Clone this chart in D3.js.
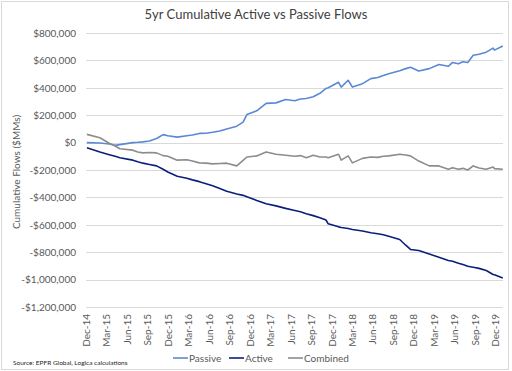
<!DOCTYPE html>
<html>
<head>
<meta charset="utf-8">
<script src="https://cdn.jsdelivr.net/npm/d3@7"></script>
<style>
  body { margin: 0; background: #fff; }
  text { font-family: Lato, "Open Sans", sans-serif; }
</style>
</head>
<body>
<svg></svg>
<script>
// Chart data (values in $MMs)
const dates = [
  "2014-12-05", "2015-02-01", "2015-03-15", "2015-04-10", "2015-05-01", "2015-06-28",
  "2015-07-20", "2015-08-12", "2015-09-10", "2015-10-12", "2015-11-10", "2015-12-01",
  "2016-01-12", "2016-02-24", "2016-03-20", "2016-04-20", "2016-05-20", "2016-06-18",
  "2016-07-20", "2016-08-20", "2016-10-04", "2016-11-01", "2016-11-18", "2017-01-01",
  "2017-02-12", "2017-03-28", "2017-05-10", "2017-06-20", "2017-07-15", "2017-08-10",
  "2017-09-10", "2017-10-10", "2017-11-06", "2017-11-16", "2018-01-01", "2018-01-13",
  "2018-02-13", "2018-03-04", "2018-04-18", "2018-05-25", "2018-06-25", "2018-07-20",
  "2018-08-13", "2018-10-01", "2018-10-28", "2018-11-18", "2018-12-25", "2019-02-10",
  "2019-03-25", "2019-05-06", "2019-05-25", "2019-06-20", "2019-07-10", "2019-08-01",
  "2019-08-25", "2019-09-20", "2019-10-22", "2019-11-22", "2019-11-28", "2020-01-04"
];
const passive = [
  0, -3, -10, -20, -15, 0,
  2, 5, 12, 30, 58, 50,
  40, 50, 55, 67, 68, 75,
  85, 100, 120, 150, 205, 232,
  286, 290, 314, 305, 318, 322,
  335, 360, 395, 400, 440, 405,
  455, 405, 430, 467, 475, 490,
  503, 525, 540, 550, 522, 540,
  570, 557, 585, 575, 590, 585,
  637, 645, 660, 690, 675, 705
].map(v => v * 1000);
const active = [
  -37, -68, -88, -100, -110, -128,
  -140, -150, -160, -170, -195, -215,
  -245, -260, -272, -285, -300, -315,
  -335, -355, -375, -385, -395, -422,
  -446, -462, -480, -495, -505, -519,
  -533, -549, -565, -593, -615, -620,
  -627, -634, -645, -658, -665, -673,
  -683, -707, -749, -780, -788, -813,
  -837, -860, -866, -880, -890, -903,
  -910, -918, -934, -963, -965, -988
].map(v => v * 1000);
const combined = [
  60, 35, -5, -25, -45, -55,
  -68, -75, -72, -75, -95, -100,
  -128, -125, -135, -148, -150, -155,
  -152, -150, -170, -130, -105, -97,
  -68, -85, -92, -100, -95, -110,
  -92, -105, -105, -110, -85, -128,
  -97, -148, -115, -105, -108, -100,
  -97, -85, -90, -97, -135, -170,
  -170, -195, -183, -195, -188, -200,
  -170, -185, -195, -178, -190, -195
].map(v => v * 1000);

const yTicks = [800000, 600000, 400000, 200000, 0, -200000, -400000, -600000, -800000, -1000000, -1200000];
const seriesNames = ["Passive", "Active", "Combined"];
const seriesColors = ["#5b88d6", "#0b1f7a", "#8c8c8c"];

const width = 512, height = 371;
const margin = { top: 33, right: 9, bottom: 64, left: 86 };

const svg = d3.select("svg")
    .attr("width", width)
    .attr("height", height);

// Outer chart border
svg.append("rect")
    .attr("x", 1.5).attr("y", 1.5)
    .attr("width", width - 5).attr("height", height - 3)
    .attr("fill", "none")
    .attr("stroke", "#d9d9d9");

const parse = d3.timeParse("%Y-%m-%d");

const xScale = d3.scaleTime()
    .domain([new Date(2014, 11, 1), new Date(2020, 0, 5)])
    .range([margin.left, width - margin.right]);

const yScale = d3.scaleLinear()
    .domain([-1200000, 800000])
    .range([height - margin.bottom, margin.top]);

// Gridlines
svg.append("g")
    .selectAll("line")
    .data(yTicks)
    .join("line")
    .attr("x1", margin.left)
    .attr("x2", width - margin.right)
    .attr("y1", d => Math.round(yScale(d)) + 0.5)
    .attr("y2", d => Math.round(yScale(d)) + 0.5)
    .attr("stroke", "#d9d9d9");

// Y axis labels
const fmt = d => (d < 0 ? "-$" : "$") + d3.format(",")(Math.abs(d));
const yAxis = svg.append("g")
    .attr("transform", `translate(${margin.left},0)`)
    .call(d3.axisLeft(yScale).tickValues(yTicks).tickFormat(fmt).tickSize(0).tickPadding(10));
yAxis.select(".domain").remove();
yAxis.selectAll("text")
    .style("font-family", "Lato, sans-serif")
    .style("font-size", "10px")
    .attr("fill", "#595959");

// X axis labels (quarterly)
const xTicks = d3.range(0, 21).map(i => new Date(2014, 11 + i * 3, 1));
const xAxis = svg.append("g")
    .attr("transform", `translate(0,${height - margin.bottom})`)
    .call(d3.axisBottom(xScale).tickValues(xTicks).tickFormat(d3.timeFormat("%b-%y")).tickSize(0));
xAxis.select(".domain").remove();
xAxis.selectAll("text")
    .style("font-family", "Lato, sans-serif")
    .style("font-size", "10px")
    .attr("fill", "#595959")
    .attr("text-anchor", "end")
    .attr("transform", "rotate(-90)")
    .attr("x", -7)
    .attr("y", 0)
    .attr("dy", "0.35em");

// Lines
const seriesValues = [passive, active, combined];
const line = d3.line()
    .x((d, i) => xScale(parse(dates[i])))
    .y(d => yScale(d));

seriesValues.forEach((vals, k) => {
    svg.append("path")
        .datum(vals)
        .attr("fill", "none")
        .attr("stroke", seriesColors[k])
        .attr("stroke-width", 1.6)
        .attr("stroke-linejoin", "round")
        .attr("d", line);
});

// Title
svg.append("text")
    .attr("x", 256)
    .attr("y", 19)
    .attr("text-anchor", "middle")
    .style("font-size", "13px")
    .attr("fill", "#404040")
    .text("5yr Cumulative Active vs Passive Flows");

// Y axis title
svg.append("text")
    .attr("transform", "rotate(-90)")
    .attr("x", -172)
    .attr("y", 20)
    .attr("text-anchor", "middle")
    .style("font-size", "10px")
    .attr("fill", "#595959")
    .text("Cumulative Flows ($MMs)");

// Legend
const legendX = [173, 229, 288];
const legend = svg.append("g");
seriesNames.forEach((name, k) => {
    legend.append("line")
        .attr("x1", legendX[k]).attr("x2", legendX[k] + 15)
        .attr("y1", 358).attr("y2", 358)
        .attr("stroke", seriesColors[k])
        .attr("stroke-width", 1.6);
    legend.append("text")
        .attr("x", legendX[k] + 16)
        .attr("y", 361.5)
        .style("font-size", "10px")
        .attr("fill", "#595959")
        .text(name);
});

// Source note
svg.append("text")
    .attr("x", 13)
    .attr("y", 365)
    .style("font-size", "6.5px")
    .attr("fill", "#262626")
    .text("Source: EPFR Global, Logica calculations");
</script>
</body>
</html>
